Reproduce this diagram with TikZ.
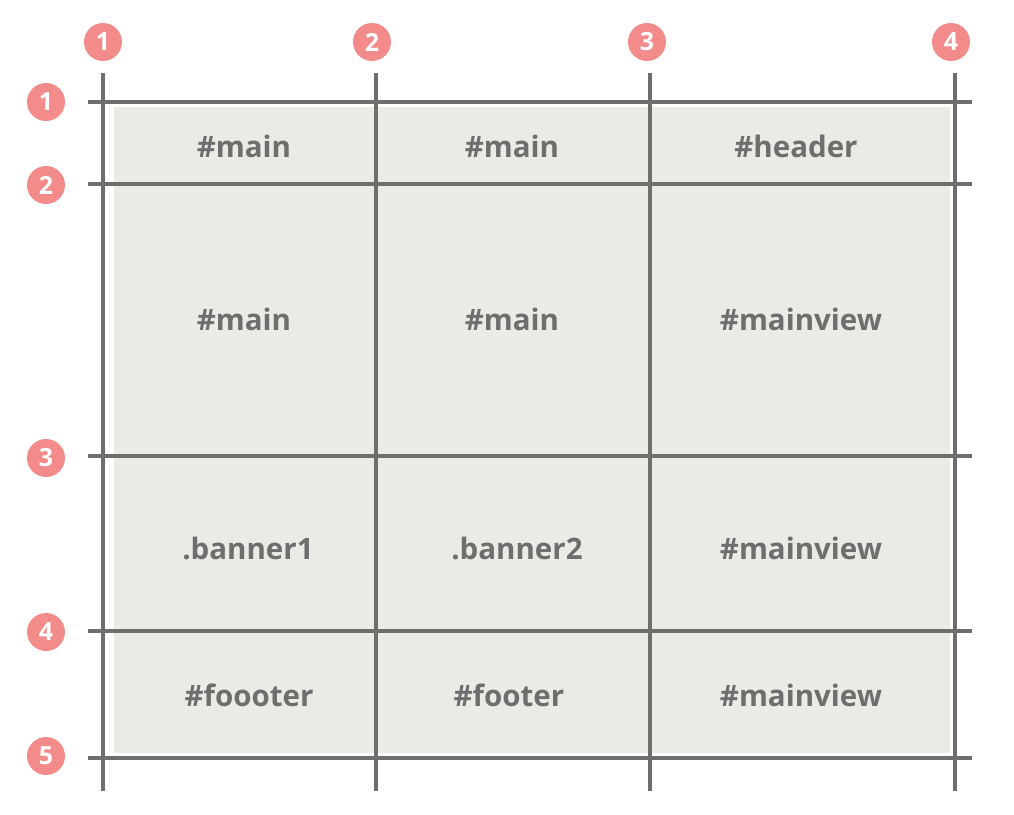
\documentclass[tikz,border=0pt]{standalone}
\usepackage{fontspec}
\setmainfont{Open Sans}
\usepackage{tikz}
\usetikzlibrary{positioning}

\definecolor{gridgrey}{HTML}{6E6E6E}
\definecolor{cellgrey}{HTML}{EBEAE5}
\definecolor{badgered}{HTML}{F48B8B}
\definecolor{labelgrey}{HTML}{6E6E6E}

\tikzset{
	gridline/.style={draw=gridgrey, line width=3.2pt},
	numbadge/.style={shape=circle, fill=badgered, inner sep=0pt, minimum size=38pt, text=white, font=\bfseries\fontsize{25}{25}\selectfont},
	areaname/.style={text=labelgrey, font=\bfseries\fontsize{29.5}{29.5}\selectfont}
}

\begin{document}
\begin{tikzpicture}[x=1pt,y=-1pt]
	\useasboundingbox (0,0) rectangle (1014,814);
	% grid area
	\fill[cellgrey] (114,107) rectangle (950,753);
	% column lines
	\path (103,73) coordinate (c1a) (103,791) coordinate (c1b)
		  (376,73) coordinate (c2a) (376,791) coordinate (c2b)
		  (650,73) coordinate (c3a) (650,791) coordinate (c3b)
		  (955,73) coordinate (c4a) (955,791) coordinate (c4b);
	% row lines
	\path (88,102) coordinate (r1a) (972,102) coordinate (r1b)
		  (88,184) coordinate (r2a) (972,184) coordinate (r2b)
		  (88,456) coordinate (r3a) (972,456) coordinate (r3b)
		  (88,631) coordinate (r4a) (972,631) coordinate (r4b)
		  (88,758) coordinate (r5a) (972,758) coordinate (r5b);
	\draw[gridline] (c1a) -- (c1b);
	\draw[gridline] (c2a) -- (c2b);
	\draw[gridline] (c3a) -- (c3b);
	\draw[gridline] (c4a) -- (c4b);
	\draw[gridline] (r1a) -- (r1b);
	\draw[gridline] (r2a) -- (r2b);
	\draw[gridline] (r3a) -- (r3b);
	\draw[gridline] (r4a) -- (r4b);
	\draw[gridline] (r5a) -- (r5b);
	% column numbers
	\path (103,42) node (col1) [numbadge] {1}
		  (372,42) node (col2) [numbadge] {2}
		  (647,42) node (col3) [numbadge] {3}
		  (951,42) node (col4) [numbadge] {4};
	% row numbers
	\path (46,102) node (row1) [numbadge] {1}
		  (46,185) node (row2) [numbadge] {2}
		  (46,458) node (row3) [numbadge] {3}
		  (46,632) node (row4) [numbadge] {4}
		  (46,756) node (row5) [numbadge] {5};
	% area names
	\path (244,146) node (main1) [areaname] {\#main}
		  (512,146) node (main2) [areaname] {\#main}
		  (796,146) node (header) [areaname] {\#header}
		  (244,319) node (main3) [areaname] {\#main}
		  (512,319) node (main4) [areaname] {\#main}
		  (801,319) node (view1) [areaname] {\#mainview}
		  (248,548) node (banner1) [areaname] {.banner1}
		  (517,548) node (banner2) [areaname] {.banner2}
		  (801,548) node (view2) [areaname] {\#mainview}
		  (249,695) node (foooter) [areaname] {\#foooter}
		  (509,695) node (footer) [areaname] {\#footer}
		  (801,695) node (view3) [areaname] {\#mainview};
\end{tikzpicture}
\end{document}
